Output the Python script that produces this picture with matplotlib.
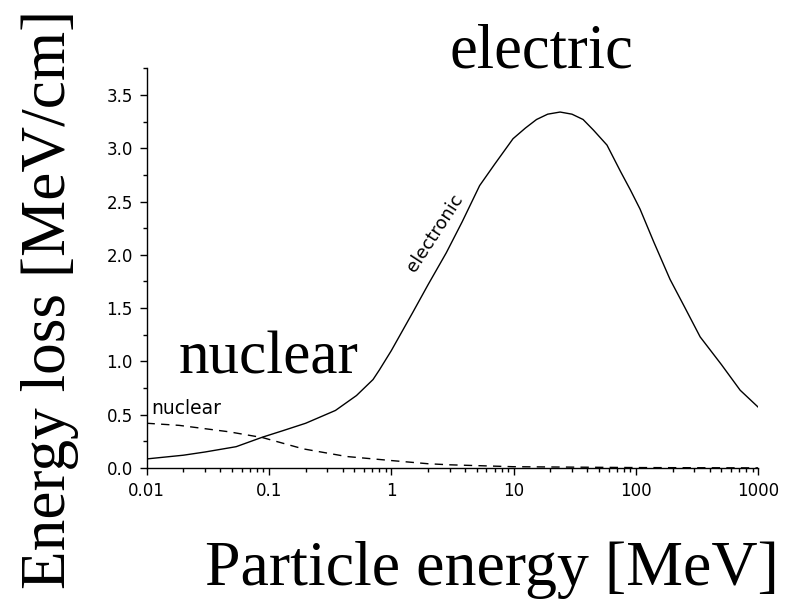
import matplotlib
matplotlib.use('Agg')
import matplotlib.pyplot as plt
from matplotlib.ticker import LogLocator, FixedLocator, MultipleLocator, FixedFormatter, NullFormatter

# values (energy in MeV, loss in MeV/cm)
elec_e = [0.01, 0.02, 0.03, 0.054, 0.089, 0.13, 0.2, 0.35, 0.52, 0.71, 0.8, 1.0, 1.5,
          2.0, 2.82, 3.8, 5.28, 7.0, 9.9, 12.5, 15.4, 19, 24, 30, 37, 45, 58, 75, 90,
          108, 140, 190, 250, 335, 500, 711, 1000]
elec_loss = [0.085, 0.12, 0.15, 0.2, 0.29, 0.35, 0.42, 0.54, 0.68, 0.83, 0.92, 1.1, 1.46,
             1.72, 2.02, 2.31, 2.65, 2.85, 3.09, 3.19, 3.27, 3.32, 3.34, 3.32, 3.27, 3.17,
             3.03, 2.78, 2.61, 2.43, 2.12, 1.77, 1.51, 1.23, 0.97, 0.73, 0.57]
nuc_e = [0.01, 0.0185, 0.047, 0.089, 0.19, 0.43, 1.0, 2.0, 3.0, 10, 100, 1000]
nuc_loss = [0.42, 0.40, 0.34, 0.285, 0.18, 0.108, 0.07, 0.04, 0.03, 0.012, 0.004, 0.001]

xticks = [0.01, 0.1, 1, 10, 100, 1000]
xticklabels = ['0.01', '0.1', '1', '10', '100', '1000']
yticks = [0.0, 0.5, 1.0, 1.5, 2.0, 2.5, 3.0, 3.5]

SERIF = 'Liberation Serif'

fig = plt.figure(figsize=(7.87, 5.99), dpi=100)
ax = fig.add_axes([0.1862, 0.2187, 0.7773, 0.6672])

ax.plot(elec_e, elec_loss, color='black', lw=1.0)
ax.plot(nuc_e, nuc_loss, color='black', lw=1.0, ls=(0, (6, 4.5)))

ax.set_xscale('log')
ax.set_xlim(0.01, 1000)
ax.set_ylim(0, 3.75)
ax.xaxis.set_major_locator(FixedLocator(xticks))
ax.xaxis.set_major_formatter(FixedFormatter(xticklabels))
ax.xaxis.set_minor_locator(LogLocator(base=10, subs=range(2, 10)))
ax.xaxis.set_minor_formatter(NullFormatter())
ax.set_yticks(yticks)
ax.set_yticklabels([f'{v:.1f}' for v in yticks])
ax.yaxis.set_minor_locator(MultipleLocator(0.25))

ax.tick_params(which='major', direction='out', length=5, width=1.0, labelsize=12, pad=5)
ax.tick_params(which='minor', direction='out', length=3, width=1.0)
for sp in ['top', 'right']:
    ax.spines[sp].set_visible(False)
for sp in ['left', 'bottom']:
    ax.spines[sp].set_linewidth(1.0)

# curve labels
ax.text(0.0109, 0.56, 'nuclear', fontsize=13.5, ha='left', va='center')
ax.text(2.26, 2.2, 'electronic', fontsize=13, rotation=57,
        ha='center', va='center', rotation_mode='anchor')

# big annotations
fig.text(0.688, 0.888, 'electric', family=SERIF, fontsize=45, ha='center', va='baseline')
fig.text(0.341, 0.377, 'nuclear', family=SERIF, fontsize=44, ha='center', va='baseline')
fig.text(0.625, 0.023, 'Particle energy [MeV]', family=SERIF, fontsize=46,
         ha='center', va='baseline')
fig.text(0.063, 0.5, 'Energy loss [MeV/cm]', family=SERIF, fontsize=45.5,
         rotation=90, ha='center', va='center')

plt.savefig('out.png', dpi=100)
plt.close()
